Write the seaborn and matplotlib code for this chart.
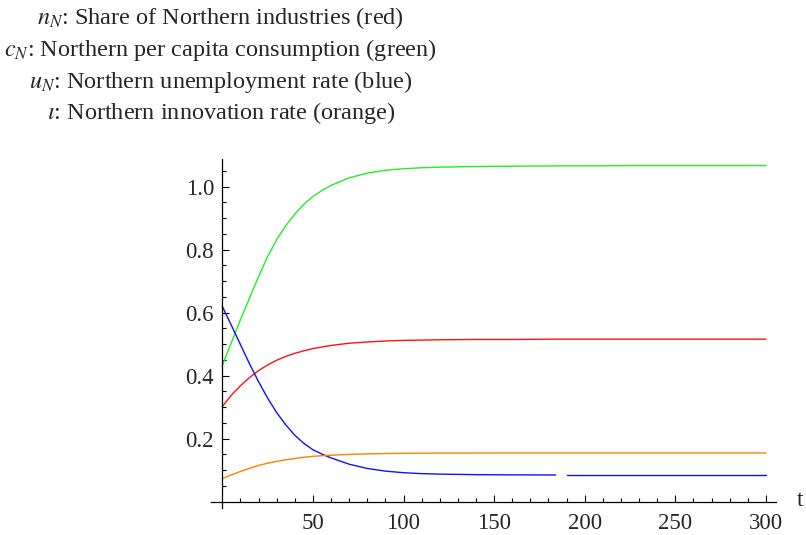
import numpy as np
import pandas as pd
import matplotlib
matplotlib.use("Agg")
import matplotlib.pyplot as plt
import seaborn as sns
from matplotlib.ticker import FixedLocator

# ---- data ----
t = [0, 5, 10, 15, 20, 25, 30, 35, 40, 45, 50, 55, 60, 70, 80, 90, 100,
     110, 120, 140, 160, 184, 187, 190, 200, 225, 250, 275, 300]
n_N = [0.302, 0.338, 0.368, 0.394, 0.416, 0.434, 0.449, 0.461, 0.471, 0.479,
       0.486, 0.491, 0.496, 0.503, 0.507, 0.510, 0.512, 0.513, 0.514, 0.515,
       0.515, 0.516, 0.516, 0.516, 0.516, 0.516, 0.516, 0.516, 0.516]
c_N = [0.432, 0.505, 0.577, 0.646, 0.714, 0.778, 0.832, 0.876, 0.913, 0.944,
       0.969, 0.988, 1.004, 1.028, 1.043, 1.052, 1.057, 1.060, 1.062, 1.064,
       1.065, 1.066, 1.066, 1.066, 1.066, 1.067, 1.067, 1.067, 1.067]
u_N = [0.620, 0.560, 0.499, 0.438, 0.381, 0.329, 0.283, 0.244, 0.211, 0.185,
       0.165, 0.151, 0.139, 0.119, 0.1055, 0.097, 0.092, 0.089, 0.0875, 0.0858,
       0.0851, 0.0848, np.nan, 0.0847, 0.0847, 0.0847, 0.0847, 0.0847, 0.0847]
iota = [0.073, 0.085, 0.096, 0.106, 0.115, 0.122, 0.128, 0.133, 0.137, 0.141,
        0.144, 0.146, 0.1475, 0.150, 0.1518, 0.1528, 0.1535, 0.154, 0.1543,
        0.1545, 0.1546, 0.1546, 0.1546, 0.1546, 0.1546, 0.1546, 0.1546, 0.1546, 0.1546]

x_major = [50, 100, 150, 200, 250, 300]
y_major = [0.2, 0.4, 0.6, 0.8, 1.0]
y_labels = ["0.2", "0.4", "0.6", "0.8", "1.0"]

titles = [r"$n_N$: Share of Northern industries (red)",
          r"$c_N$: Northern per capita consumption (green)",
          r"$u_N$: Northern unemployment rate (blue)",
          r"$\iota$: Northern innovation rate (orange)"]

# ---- style ----
sns.set_style("white")
plt.rcParams["font.family"] = ["Liberation Serif", "DejaVu Serif"]
plt.rcParams["mathtext.fontset"] = "stix"

fig = plt.figure(figsize=(8.06, 5.35), dpi=100)
ax = fig.add_axes([0.2623, 0.0505, 0.7004, 0.6518])

df = pd.DataFrame({"t": t, "n": n_N, "c": c_N, "u": u_N, "i": iota})

sns.lineplot(data=df, x="t", y="c", ax=ax, color="#22ee22", linewidth=1.0)
sns.lineplot(data=df, x="t", y="n", ax=ax, color="#ff1010", linewidth=1.0)
# blue has a small gap: plot each contiguous segment
seg = df["u"].isna().cumsum()
for _, part in df[df["u"].notna()].groupby(seg[df["u"].notna()]):
    sns.lineplot(data=part, x="t", y="u", ax=ax, color="#1010ff", linewidth=1.0)
sns.lineplot(data=df, x="t", y="i", ax=ax, color="#ff8000", linewidth=1.0)

ax.set_xlim(-6, 305.5)
ax.set_ylim(-0.02, 1.087)
ax.set_xlabel("")
ax.set_ylabel("")

for s in ["top", "right"]:
    ax.spines[s].set_visible(False)
ax.spines["left"].set_position(("data", 0))
ax.spines["bottom"].set_position(("data", 0))
for s in ["left", "bottom"]:
    ax.spines[s].set_linewidth(0.9)
    ax.spines[s].set_color("black")

ax.xaxis.set_major_locator(FixedLocator(x_major))
ax.xaxis.set_minor_locator(FixedLocator([v for v in range(10, 301, 10) if v % 50]))
ax.yaxis.set_major_locator(FixedLocator(y_major))
ax.yaxis.set_minor_locator(FixedLocator([round(0.05 * k, 2) for k in range(1, 22) if k % 4]))
ax.set_xticklabels([str(v) for v in x_major])
ax.set_yticklabels(y_labels)

ax.tick_params(which="both", direction="in", color="black", width=0.8,
               bottom=True, left=True, top=False, right=False)
ax.tick_params(which="major", length=5, labelsize=16.5)
ax.tick_params(axis="x", which="major", pad=8)
ax.tick_params(axis="y", which="major", pad=6)
ax.tick_params(which="minor", length=3)

ax.text(319, 0.005, "t", fontsize=16.5, ha="center", va="center", clip_on=False)

ys = [0.966, 0.9065, 0.847, 0.789]
for txt, yy in zip(titles, ys):
    fig.text(0.274, yy, txt, fontsize=17.5, ha="center", va="center")

fig.savefig("out.png", dpi=100)
